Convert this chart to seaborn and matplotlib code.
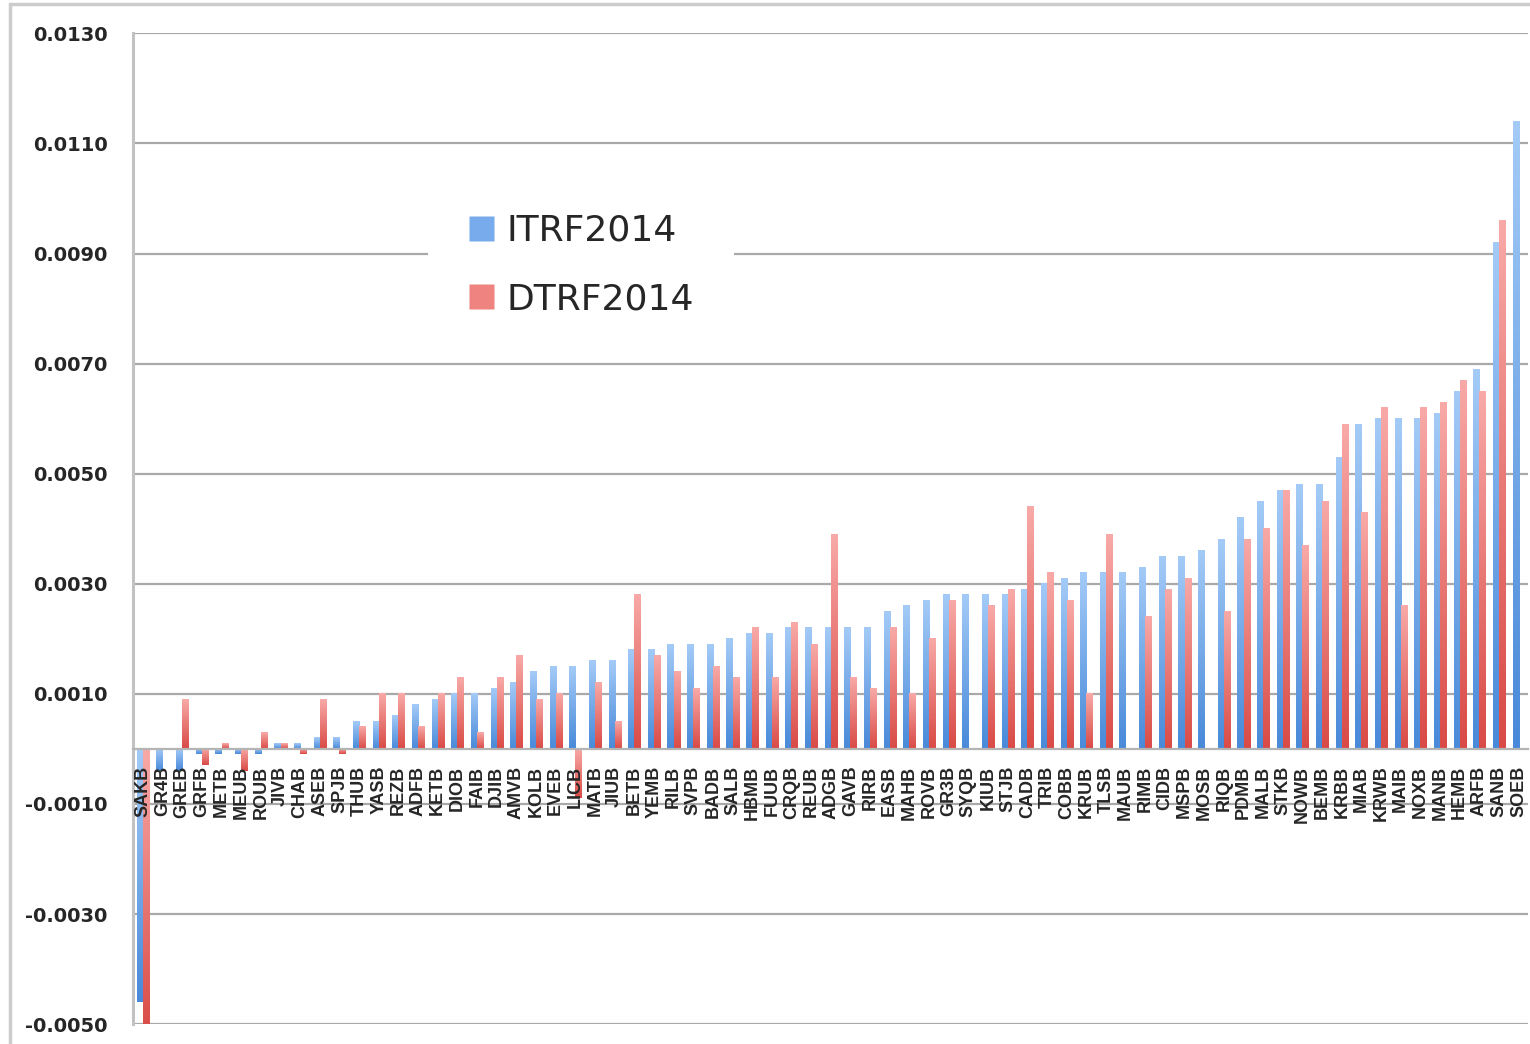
import matplotlib
matplotlib.use("Agg")
import matplotlib.pyplot as plt
import numpy as np
import pandas as pd
import seaborn as sns
from matplotlib.colors import LinearSegmentedColormap
from matplotlib.lines import Line2D

stations = [
    "SAKB", "GR4B", "GREB", "GRFB", "METB", "MEUB", "ROUB", "JIVB", "CHAB", "ASEB",
    "SPJB", "THUB", "YASB", "REZB", "ADFB", "KETB", "DIOB", "FAIB", "DJIB", "AMVB",
    "KOLB", "EVEB", "LICB", "MATB", "JIUB", "BETB", "YEMB", "RILB", "SVPB", "BADB",
    "SALB", "HBMB", "FUUB", "CRQB", "REUB", "ADGB", "GAVB", "RIRB", "EASB", "MAHB",
    "ROVB", "GR3B", "SYQB", "KIUB", "STJB", "CADB", "TRIB", "COBB", "KRUB", "TLSB",
    "MAUB", "RIMB", "CIDB", "MSPB", "MOSB", "RIQB", "PDMB", "MALB", "STKB", "NOWB",
    "BEMB", "KRBB", "MIAB", "KRWB", "MAIB", "NOXB", "MANB", "HEMB", "ARFB", "SANB",
    "SOEB",
]

itrf2014 = [
    -0.0046, -0.0004, -0.0004, -0.0001, -0.0001, -0.0001, -0.0001, 0.0001, 0.0001, 0.0002,
    0.0002, 0.0005, 0.0005, 0.0006, 0.0008, 0.0009, 0.0010, 0.0010, 0.0011, 0.0012,
    0.0014, 0.0015, 0.0015, 0.0016, 0.0016, 0.0018, 0.0018, 0.0019, 0.0019, 0.0019,
    0.0020, 0.0021, 0.0021, 0.0022, 0.0022, 0.0022, 0.0022, 0.0022, 0.0025, 0.0026,
    0.0027, 0.0028, 0.0028, 0.0028, 0.0028, 0.0029, 0.0030, 0.0031, 0.0032, 0.0032,
    0.0032, 0.0033, 0.0035, 0.0035, 0.0036, 0.0038, 0.0042, 0.0045, 0.0047, 0.0048,
    0.0048, 0.0053, 0.0059, 0.0060, 0.0060, 0.0060, 0.0061, 0.0065, 0.0069, 0.0092,
    0.0114,
]

dtrf2014 = [
    -0.0052, 0.0, 0.0009, -0.0003, 0.0001, -0.0004, 0.0003, 0.0001, -0.0001, 0.0009,
    -0.0001, 0.0004, 0.0010, 0.0010, 0.0004, 0.0010, 0.0013, 0.0003, 0.0013, 0.0017,
    0.0009, 0.0010, -0.0009, 0.0012, 0.0005, 0.0028, 0.0017, 0.0014, 0.0011, 0.0015,
    0.0013, 0.0022, 0.0013, 0.0023, 0.0019, 0.0039, 0.0013, 0.0011, 0.0022, 0.0010,
    0.0020, 0.0027, 0.0, 0.0026, 0.0029, 0.0044, 0.0032, 0.0027, 0.0010, 0.0039,
    0.0, 0.0024, 0.0029, 0.0031, 0.0, 0.0025, 0.0038, 0.0040, 0.0047, 0.0037,
    0.0045, 0.0059, 0.0043, 0.0062, 0.0026, 0.0062, 0.0063, 0.0067, 0.0065, 0.0096,
    0.0,
]

series_names = ["ITRF2014", "DTRF2014"]
ytick_values = [-0.005, -0.003, -0.001, 0.001, 0.003, 0.005, 0.007, 0.009, 0.011, 0.013]

# (top, bottom) colours of the bar gradients
blue_grad = ("#a4cbf7", "#4889d9")
red_grad = ("#f8aaa8", "#d94a45")

df = pd.DataFrame({"station": stations, series_names[0]: itrf2014, series_names[1]: dtrf2014})
long_df = df.melt(id_vars="station", var_name="frame", value_name="value")

sns.set_style("white")
plt.rcParams["font.family"] = ["Liberation Sans", "DejaVu Sans"]

fig = plt.figure(figsize=(15.3, 10.44), dpi=100)
ax = fig.add_axes([0.087, 0.019, 0.912, 0.949])

sns.barplot(
    data=long_df, x="station", y="value", hue="frame",
    palette=["#76aaea", "#ec7f7c"], width=0.62, gap=0,
    errorbar=None, ax=ax, zorder=2, linewidth=0, legend=False,
)

# vertical gradient fill on every bar, light at the top
grad = np.linspace(0, 1, 256).reshape(-1, 1)
for container, (top_c, bot_c) in zip(ax.containers, [blue_grad, red_grad]):
    cmap = LinearSegmentedColormap.from_list("g", [bot_c, top_c])
    for bar in container:
        h = bar.get_height()
        if h == 0:
            continue
        x0, w, y0 = bar.get_x(), bar.get_width(), bar.get_y()
        lo, hi = min(y0, y0 + h), max(y0, y0 + h)
        bar.set_facecolor("none")
        ax.imshow(grad, cmap=cmap, aspect="auto", origin="lower",
                  extent=(x0, x0 + w, lo, hi), zorder=2, interpolation="bilinear")

ax.set_ylim(-0.005, 0.013)
ax.set_xlim(-0.5, len(stations) - 0.5)
ax.set_yticks(ytick_values)
ax.set_yticklabels([f"{v:.4f}" for v in ytick_values], fontsize=14,
                   fontweight="bold", family="DejaVu Sans")
for v in ytick_values:
    ax.axhline(v, color="#a9a9a9", linewidth=1.6, zorder=1)
ax.set_axisbelow(False)
ax.set_xlabel("")
ax.set_ylabel("")

for side in ["top", "right"]:
    ax.spines[side].set_visible(False)
ax.spines["left"].set_color("#c2c2c2")
ax.spines["left"].set_linewidth(2.2)
ax.spines["bottom"].set_position(("data", 0))
ax.spines["bottom"].set_color("#b4b4b4")
ax.spines["bottom"].set_linewidth(1.6)

ax.tick_params(axis="y", length=7, width=1.6, color="#a9a9a9", pad=11.5)
ax.tick_params(axis="x", which="major", length=0, pad=12)
ax.set_xticks(np.arange(len(stations)) + 0.5, minor=True)
ax.tick_params(axis="x", which="minor", length=5, width=1, color="#b0b0b0")
plt.setp(ax.get_xticklabels(), rotation=90, fontsize=13, fontweight="bold", va="top")

handles = [
    Line2D([], [], linestyle="none", marker="s", markersize=18,
           markerfacecolor=c, markeredgecolor="none")
    for c in ["#77abeb", "#ee8380"]
]
leg = ax.legend(
    handles, series_names, loc="upper left", bbox_to_anchor=(0.2115, 0.858),
    prop={"family": "DejaVu Sans", "size": 26},
    frameon=True, facecolor="white", edgecolor="none", framealpha=1,
    handlelength=0.7, handleheight=0.7, handletextpad=0.38, labelspacing=0.95,
    borderpad=1.1, borderaxespad=0, fancybox=False,
)
leg.set_zorder(5)

# outer chart frame (left and top edges visible in the reference)
fig.add_artist(Line2D([0.0065, 0.0065], [0.0, 0.996], transform=fig.transFigure,
                      color="#cccccc", linewidth=2.5))
fig.add_artist(Line2D([0.0065, 1.0], [0.996, 0.996], transform=fig.transFigure,
                      color="#cccccc", linewidth=2.5))

fig.savefig("out.png", dpi=100)
